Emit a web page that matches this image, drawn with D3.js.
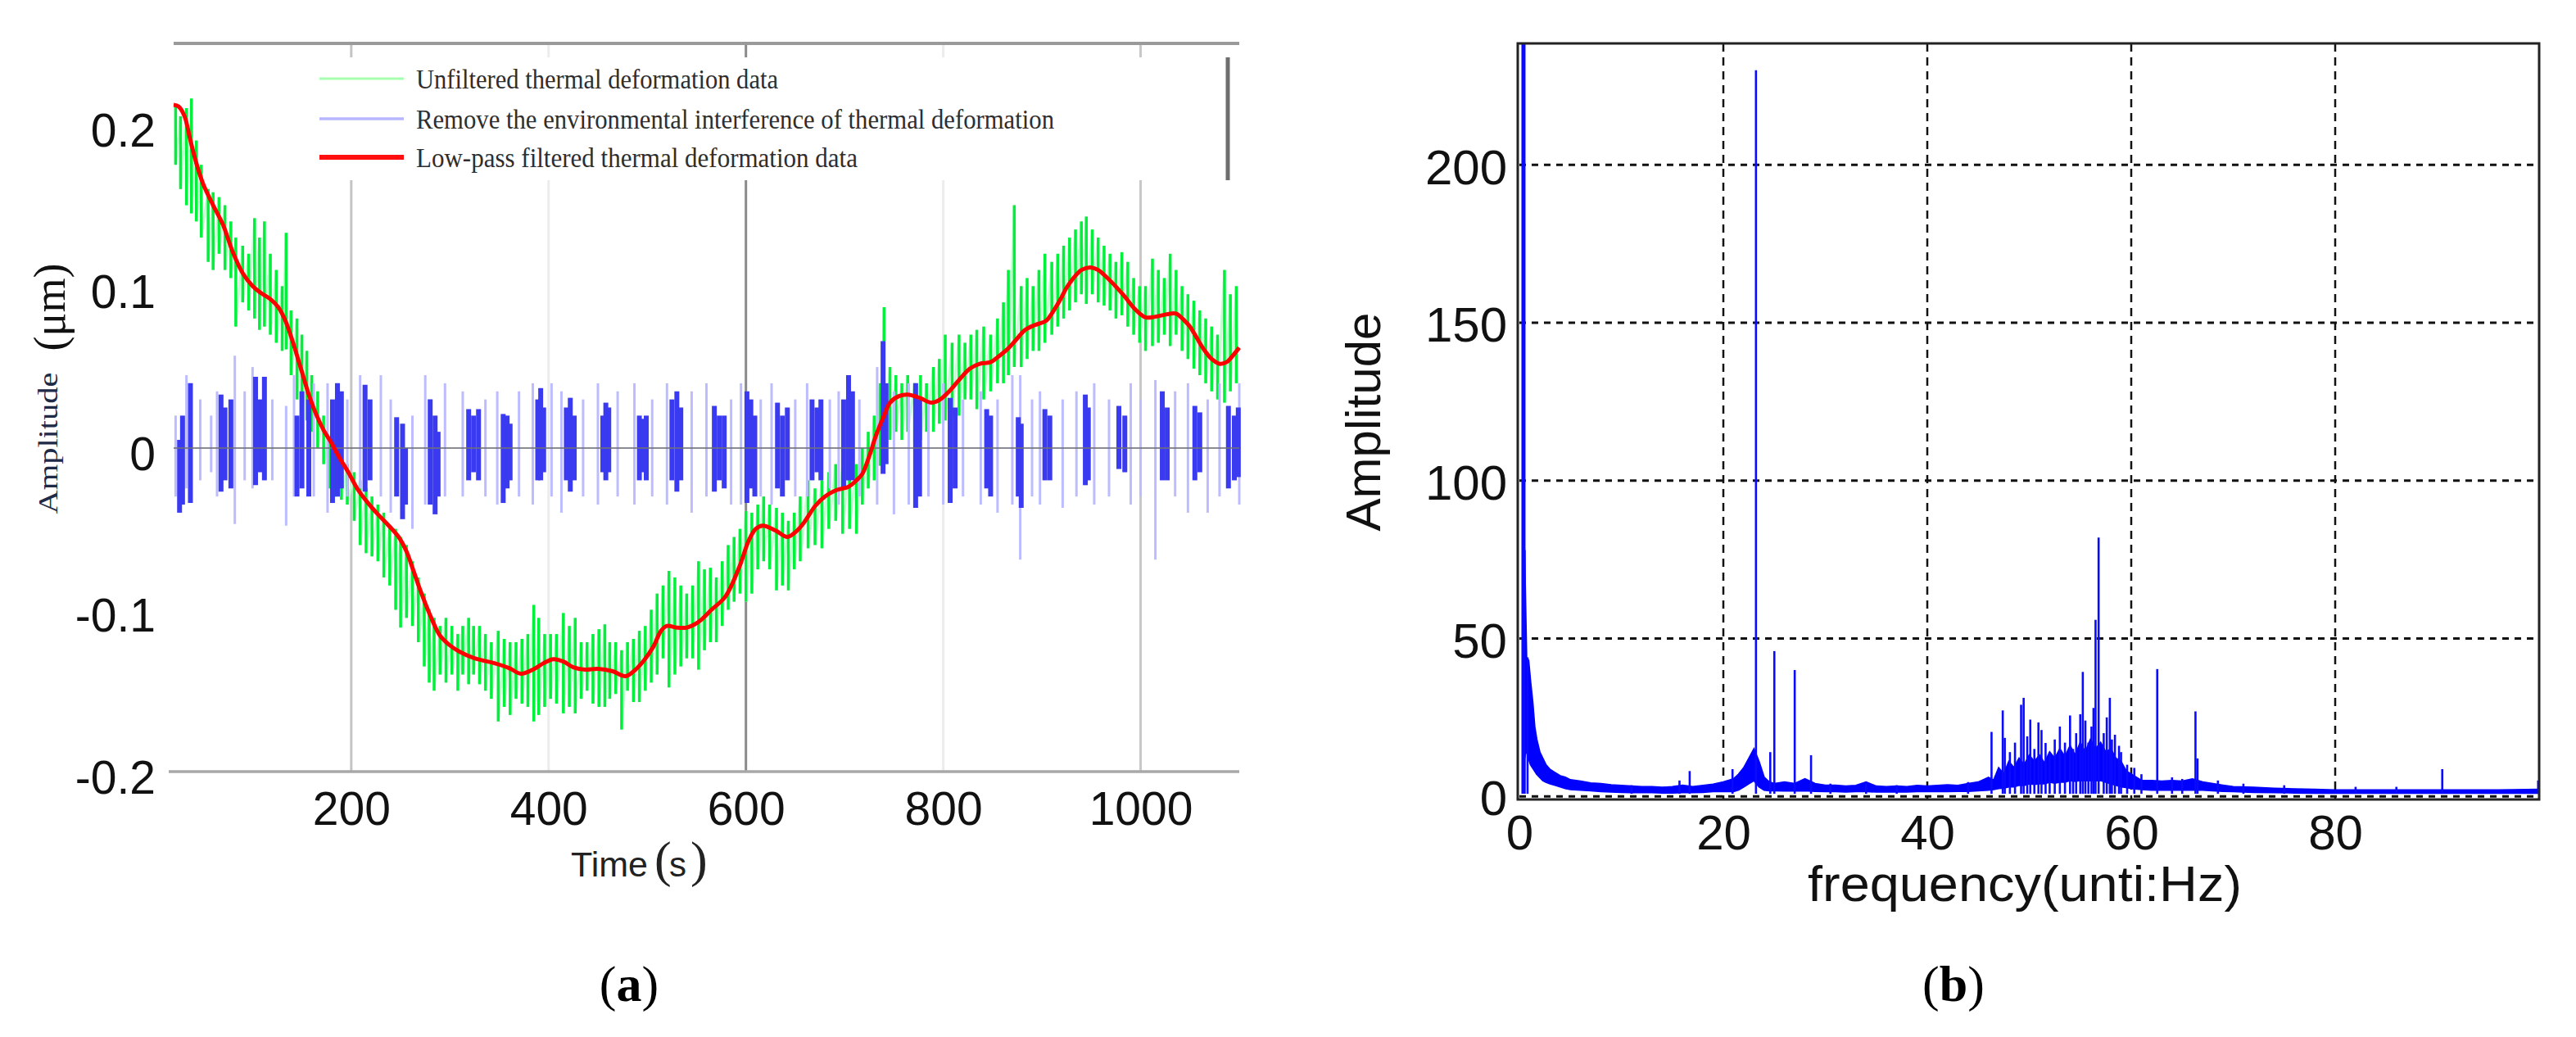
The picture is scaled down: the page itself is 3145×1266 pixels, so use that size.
<!DOCTYPE html>
<html><head><meta charset="utf-8">
<script src="https://cdn.jsdelivr.net/npm/d3@7"></script>
<style>body{margin:0;background:#fff}svg{display:block}</style>
</head><body>
<svg id="c" width="3145" height="1266"></svg>
<script>
// ---------------- DATA ----------------
const timeTicks = [200, 400, 600, 800, 1000];
const ampTicks = [-0.2, -0.1, 0, 0.1, 0.2];
const ampTickLabels = ["-0.2", "-0.1", "0", "0.1", "0.2"];
const freqTicks = [0, 20, 40, 60, 80];
const specTicks = [0, 50, 100, 150, 200];
const legendLabels = [
  "Unfiltered thermal deformation data",
  "Remove the environmental interference of thermal deformation",
  "Low-pass filtered thermal deformation data"
];
// red: low-pass filtered [time, amplitude]
const redCurve = [[20,0.212],[25,0.211],[31,0.205],[37,0.19],[43,0.176],[50,0.163],[60,0.150],[70,0.138],[80,0.121],[90,0.108],[100,0.100],[108,0.096],[118,0.092],[126,0.087],[133,0.079],[140,0.067],[150,0.047],[157,0.033],[165,0.020],[172,0.011],[180,0.003],[188,-0.006],[197,-0.015],[206,-0.025],[217,-0.034],[227,-0.041],[238,-0.048],[248,-0.055],[256,-0.064],[262,-0.074],[270,-0.088],[279,-0.102],[290,-0.116],[300,-0.122],[310,-0.126],[325,-0.130],[345,-0.133],[360,-0.136],[372,-0.1395],[384,-0.137],[395,-0.133],[405,-0.1305],[415,-0.132],[425,-0.1355],[437,-0.137],[450,-0.1365],[465,-0.138],[478,-0.141],[488,-0.137],[497,-0.131],[506,-0.123],[514,-0.113],[520,-0.110],[530,-0.111],[540,-0.111],[548,-0.109],[555,-0.106],[565,-0.100],[579,-0.092],[593,-0.074],[603,-0.057],[610,-0.050],[617,-0.048],[630,-0.051],[642,-0.055],[652,-0.051],[659,-0.046],[670,-0.036],[680,-0.030],[692,-0.026],[704,-0.024],[712,-0.020],[718,-0.016],[725,-0.005],[732,0.008],[740,0.020],[746,0.028],[755,0.032],[764,0.033],[776,0.031],[788,0.028],[797,0.030],[806,0.035],[816,0.042],[827,0.049],[837,0.052],[848,0.053],[857,0.057],[865,0.061],[874,0.067],[883,0.073],[893,0.076],[904,0.0785],[911,0.084],[918,0.091],[925,0.099],[932,0.105],[940,0.110],[949,0.1116],[957,0.110],[963,0.107],[973,0.101],[984,0.0935],[994,0.086],[1005,0.0807],[1014,0.081],[1022,0.082],[1030,0.083],[1036,0.083],[1044,0.079],[1050,0.075],[1057,0.068],[1064,0.061],[1072,0.055],[1080,0.052],[1087,0.053],[1092,0.056],[1100,0.062]];
// green: unfiltered data, [time, low, high] of each vertical excursion
const greenBars = [[22,0.175,0.212],[27,0.16,0.205],[33,0.15,0.21],[38,0.145,0.216],[43,0.14,0.19],[48,0.13,0.175],[55,0.115,0.16],[60,0.11,0.158],[66,0.12,0.155],[72,0.11,0.15],[78,0.105,0.14],[83,0.075,0.13],[90,0.09,0.125],[96,0.085,0.12],[102,0.08,0.142],[107,0.073,0.13],[112,0.075,0.14],[118,0.07,0.12],[124,0.065,0.11],[130,0.06,0.1],[134,0.061,0.133],[139,0.045,0.085],[145,0.03,0.08],[150,0.02,0.07],[155,0.017,0.06],[160,0.01,0.045],[166,0.0,0.035],[172,-0.01,0.02],[178,-0.025,0.005],[184,-0.03,0.003],[190,-0.032,0.0],[196,-0.035,-0.01],[203,-0.045,-0.015],[209,-0.06,-0.02],[215,-0.065,-0.025],[221,-0.067,-0.03],[227,-0.07,-0.035],[233,-0.08,-0.04],[239,-0.085,-0.048],[245,-0.1,-0.05],[250,-0.111,-0.055],[256,-0.105,-0.06],[262,-0.11,-0.07],[268,-0.12,-0.08],[274,-0.135,-0.09],[279,-0.145,-0.1],[284,-0.15,-0.105],[290,-0.14,-0.11],[296,-0.145,-0.105],[302,-0.14,-0.11],[308,-0.15,-0.115],[313,-0.14,-0.11],[319,-0.146,-0.105],[324,-0.14,-0.11],[330,-0.146,-0.11],[336,-0.15,-0.115],[342,-0.155,-0.12],[349,-0.169,-0.113],[355,-0.16,-0.118],[361,-0.165,-0.12],[367,-0.155,-0.12],[373,-0.158,-0.118],[379,-0.16,-0.115],[385,-0.169,-0.097],[390,-0.165,-0.105],[396,-0.16,-0.115],[402,-0.155,-0.115],[408,-0.158,-0.115],[415,-0.164,-0.102],[421,-0.16,-0.11],[427,-0.164,-0.105],[433,-0.155,-0.12],[439,-0.15,-0.12],[445,-0.158,-0.115],[451,-0.16,-0.112],[457,-0.16,-0.109],[462,-0.155,-0.12],[468,-0.152,-0.12],[474,-0.174,-0.125],[480,-0.15,-0.12],[486,-0.157,-0.118],[492,-0.157,-0.113],[498,-0.15,-0.11],[504,-0.145,-0.1],[510,-0.14,-0.09],[516,-0.13,-0.085],[522,-0.148,-0.076],[528,-0.14,-0.08],[534,-0.135,-0.085],[540,-0.13,-0.09],[546,-0.13,-0.085],[552,-0.137,-0.07],[558,-0.125,-0.075],[564,-0.12,-0.074],[570,-0.12,-0.08],[576,-0.11,-0.07],[582,-0.1,-0.06],[588,-0.095,-0.055],[594,-0.09,-0.05],[600,-0.095,-0.039],[606,-0.09,-0.04],[612,-0.075,-0.035],[618,-0.07,-0.03],[624,-0.075,-0.035],[631,-0.088,-0.037],[637,-0.085,-0.04],[643,-0.088,-0.045],[649,-0.075,-0.04],[655,-0.07,-0.03],[663,-0.062,-0.02],[670,-0.06,-0.025],[677,-0.062,-0.02],[684,-0.05,-0.015],[691,-0.045,-0.01],[698,-0.053,-0.011],[705,-0.05,-0.005],[712,-0.053,-0.01],[718,-0.035,0.0],[724,-0.025,0.01],[730,-0.02,0.02],[736,-0.011,0.04],[740,-0.005,0.087],[746,0.005,0.05],[752,0.01,0.045],[758,0.005,0.04],[764,0.01,0.045],[771,0.003,0.04],[777,0.005,0.045],[783,0.01,0.04],[790,0.01,0.05],[796,0.015,0.055],[802,0.017,0.07],[809,0.02,0.065],[816,0.02,0.07],[822,0.03,0.065],[828,0.03,0.07],[834,0.024,0.073],[841,0.03,0.075],[848,0.035,0.07],[855,0.04,0.08],[861,0.04,0.09],[866,0.045,0.11],[872,0.05,0.15],[879,0.05,0.1],[885,0.055,0.105],[891,0.06,0.1],[897,0.06,0.11],[903,0.065,0.12],[910,0.07,0.115],[916,0.075,0.12],[922,0.08,0.125],[928,0.085,0.13],[934,0.09,0.135],[940,0.095,0.14],[945,0.089,0.143],[951,0.095,0.135],[957,0.09,0.13],[963,0.088,0.125],[969,0.085,0.12],[975,0.08,0.115],[981,0.082,0.121],[987,0.075,0.115],[993,0.07,0.105],[999,0.065,0.1],[1005,0.06,0.1],[1012,0.063,0.117],[1018,0.065,0.11],[1024,0.07,0.105],[1030,0.063,0.12],[1036,0.07,0.11],[1042,0.06,0.1],[1048,0.055,0.095],[1054,0.049,0.091],[1060,0.045,0.085],[1066,0.04,0.08],[1072,0.035,0.075],[1078,0.03,0.07],[1085,0.028,0.11],[1091,0.035,0.095],[1097,0.04,0.1]];
// blue: interference removed, dense bursts [time, low, high]
const blueDark = [[26,-0.040,0.005],[29,-0.035,0.02],[37,-0.034,0.040],[68,-0.027,0.033],[72,-0.02,0.025],[78,-0.025,0.03],[103,-0.023,0.044],[108,-0.015,0.03],[112,-0.02,0.044],[145,-0.030,0.02],[150,-0.025,0.035],[157,-0.03,0.03],[181,-0.034,0.03],[186,-0.03,0.04],[190,-0.025,0.035],[214,-0.027,0.039],[219,-0.02,0.03],[246,-0.03,0.019],[252,-0.044,0.015],[255,-0.035,0.0],[280,-0.035,0.03],[285,-0.041,0.02],[288,-0.03,0.01],[319,-0.02,0.024],[324,-0.015,0.02],[329,-0.02,0.024],[354,-0.034,0.021],[358,-0.025,0.02],[361,-0.02,0.015],[389,-0.02,0.03],[392,-0.02,0.037],[395,-0.015,0.025],[418,-0.02,0.025],[422,-0.027,0.031],[426,-0.02,0.02],[455,-0.015,0.02],[458,-0.02,0.028],[461,-0.015,0.025],[492,-0.02,0.02],[496,-0.015,0.018],[499,-0.02,0.02],[525,-0.02,0.03],[530,-0.027,0.035],[534,-0.02,0.025],[568,-0.027,0.026],[573,-0.02,0.02],[578,-0.025,0.02],[601,-0.034,0.035],[605,-0.025,0.03],[609,-0.03,0.02],[632,-0.025,0.028],[637,-0.03,0.02],[642,-0.02,0.025],[667,-0.02,0.03],[672,-0.015,0.025],[676,-0.02,0.03],[699,-0.025,0.03],[704,-0.02,0.045],[708,-0.02,0.035],[739,-0.016,0.066],[742,-0.01,0.04],[772,-0.037,0.04],[776,-0.03,0.03],[807,-0.034,0.031],[812,-0.025,0.025],[844,-0.025,0.024],[848,-0.030,0.02],[876,-0.03,0.019],[879,-0.037,0.015],[903,-0.02,0.024],[908,-0.02,0.02],[944,-0.023,0.033],[947,-0.02,0.025],[978,-0.013,0.026],[984,-0.015,0.02],[1022,-0.02,0.035],[1027,-0.02,0.025],[1055,-0.02,0.026],[1060,-0.015,0.022],[1089,-0.025,0.026],[1095,-0.02,0.02],[1099,-0.018,0.025]];
const blueFaint = [[22,-0.03,0.02],[33,-0.025,0.045],[47,-0.02,0.03],[58,-0.015,0.02],[64,-0.03,0.035],[82,-0.047,0.057],[92,-0.02,0.035],[100,-0.025,0.05],[120,-0.02,0.03],[134,-0.048,0.026],[142,-0.03,0.045],[162,-0.03,0.04],[176,-0.04,0.04],[196,-0.03,0.03],[209,-0.025,0.045],[230,-0.03,0.045],[240,-0.04,0.03],[262,-0.05,0.02],[275,-0.035,0.045],[295,-0.03,0.04],[313,-0.03,0.035],[336,-0.03,0.03],[348,-0.035,0.035],[370,-0.03,0.035],[384,-0.035,0.04],[403,-0.03,0.04],[413,-0.04,0.035],[435,-0.03,0.03],[450,-0.035,0.04],[470,-0.03,0.035],[487,-0.035,0.04],[505,-0.03,0.03],[520,-0.035,0.04],[545,-0.04,0.035],[560,-0.03,0.04],[585,-0.035,0.03],[595,-0.035,0.04],[615,-0.03,0.03],[626,-0.035,0.04],[650,-0.03,0.03],[662,-0.03,0.04],[685,-0.025,0.03],[694,-0.035,0.035],[715,-0.03,0.03],[733,-0.035,0.05],[750,-0.041,0.035],[765,-0.035,0.04],[785,-0.03,0.03],[800,-0.035,0.04],[820,-0.03,0.03],[838,-0.035,0.035],[855,-0.04,0.03],[870,-0.035,0.045],[878,-0.069,0.045],[890,-0.03,0.03],[898,-0.035,0.035],[921,-0.037,0.03],[935,-0.03,0.035],[953,-0.035,0.04],[968,-0.03,0.03],[990,-0.035,0.04],[1000,-0.03,0.03],[1015,-0.069,0.042],[1035,-0.03,0.035],[1048,-0.04,0.04],[1068,-0.04,0.03],[1080,-0.03,0.04],[1100,-0.035,0.04]];
// spectrum: dense noise band [freq, low, high] and isolated peaks [freq, amplitude]
const specBand = [[0.5,12,78],[0.7,15,44],[0.9,12,43],[1.1,10,36],[1.3,9,30],[1.5,8,22],[1.7,7,18],[2.0,6,14],[2.3,5,12],[2.6,4.5,10],[3.0,4,8.5],[3.5,3.5,7.5],[4.0,3,6.5],[4.5,2.5,6],[5,2.2,5.2],[6,2,4.8],[7,1.8,4.2],[8,1.5,4],[9,1.4,3.6],[10,1.3,3.4],[11,1.2,3.2],[12,1.2,3],[13,1.2,3],[14,1.1,2.8],[15,1.1,3],[16,1.2,3.5],[17,1.2,3],[18,1.3,3.4],[19,1.5,3.8],[20,1.5,4.5],[21,1.5,5.5],[21.5,2,7],[22,3,9],[22.5,4,12],[23,5,15],[23.5,3,11],[24,2,6],[24.5,1.8,4.5],[25,1.8,4],[26,1.7,4.5],[27,1.7,4],[28,1.8,5.5],[29,1.6,4],[30,1.5,3.5],[31,1.5,3.5],[32,1.4,3.2],[33,1.5,3.4],[34,1.5,4.5],[35,1.4,3.2],[36,1.4,3],[37,1.4,3.2],[38,1.4,3],[39,1.5,3.4],[40,1.5,3.2],[41,1.5,3.4],[42,1.5,3.6],[43,1.6,3.4],[44,1.6,4],[45,1.8,4.5],[46,2,6],[46.5,2.2,5],[47,2.5,9],[47.5,2.6,7],[48,3,11],[48.5,3,9],[49,3.5,12],[49.5,3.5,10],[50,4,13],[50.5,3.8,11],[51,4,13],[51.5,4,10.5],[52,4.5,14],[52.5,4.2,12],[53,4.5,15],[53.5,4.5,12.5],[54,5,16],[54.5,4.8,13],[55,5,17],[55.5,5,14],[56,5,18],[56.5,5,15],[57,5,17],[57.5,4.5,14],[58,4,15],[58.5,3.5,12],[59,3,11],[59.5,2.8,8],[60,2.5,7],[61,2.2,5],[62,2,5],[63,2,4.8],[64,2,5],[65,2,4.8],[66,2,5.5],[67,2,4.5],[68,1.8,4],[69,1.6,3.5],[70,1.5,3],[72,1.3,2.8],[74,1.2,2.5],[76,1.1,2.3],[78,1.0,2.2],[80,1.0,2],[84,1.0,2],[88,1.0,2],[92,1.0,2],[96,1.0,2],[100,1.0,2.2]];
const specSpikes = [[0.4,240],[0.5,78],[0.8,44],[11,3.5],[15.7,5],[16.7,8],[20.9,8.6],[23.2,230],[24.6,14],[25.0,46],[27.0,40],[28.6,13],[30.5,4],[34,4.5],[37,3.5],[44,4.5],[46.3,20.4],[47.4,27.2],[47.6,18.5],[48.1,14],[48.6,17],[49.2,29],[49.45,31.2],[49.8,19],[50.1,24.3],[50.5,15],[50.9,23.4],[51.2,21],[51.6,16.9],[52.0,14],[52.5,18],[53.0,22.1],[53.5,17],[54.0,25.6],[54.3,15],[54.6,20],[55.0,26],[55.25,39.4],[55.5,24],[55.8,17],[56.1,22.1],[56.3,28],[56.5,55.9],[56.8,82],[57.3,20],[57.6,25],[57.9,31.2],[58.1,18],[58.4,19.5],[58.8,16],[59,14],[59.6,10],[60.3,9],[61,7],[62.55,40.3],[64,6],[65,5.5],[66.3,26.9],[66.5,12],[68.5,5],[71,4],[75,3.5],[82,3],[86,3],[90.5,8.6],[99.9,5]];

// ---------------- DRAW ----------------
const svg = d3.select('#c');
const SANS = "'Liberation Sans', Arial, sans-serif";
const SERIF = "'Liberation Serif', 'Times New Roman', serif";

// ===== Panel (a) =====
const xL = d3.scaleLinear().domain([20, 1100]).range([212, 1513]);
const yL = d3.scaleLinear().domain([-0.2, 0.25]).range([942, 53]);
const gridShade = {200: '#c4c4c4', 400: '#ececec', 600: '#8a8a8a', 800: '#ececec', 1000: '#c8c8c8'};
const gA = svg.append('g');

gA.selectAll('line.vg').data(timeTicks).join('line')
  .attr('x1', d => xL(d)).attr('x2', d => xL(d))
  .attr('y1', yL(0.25)).attr('y2', yL(-0.2))
  .attr('stroke', d => gridShade[d]).attr('stroke-width', 3);
gA.append('line').attr('x1', xL(20)).attr('x2', xL(1100)).attr('y1', yL(0.25)).attr('y2', yL(0.25))
  .attr('stroke', '#9a9a9a').attr('stroke-width', 4);
gA.append('line').attr('x1', xL(20) - 6).attr('x2', xL(1100)).attr('y1', yL(-0.2)).attr('y2', yL(-0.2))
  .attr('stroke', '#a8a8a8').attr('stroke-width', 3.5);

// legend box (white, hides gridlines)
gA.append('rect').attr('x', 380).attr('y', 70).attr('width', 1119).attr('height', 150).attr('fill', '#fff');
gA.append('line').attr('x1', 1499).attr('x2', 1499).attr('y1', 70).attr('y2', 220)
  .attr('stroke', '#6e6e6e').attr('stroke-width', 5);

// green unfiltered
const gGreen = gA.append('g');
const zig = [];
greenBars.forEach(d => { zig.push([d[0], d[2]]); zig.push([d[0], d[1]]); });
gGreen.append('path').attr('d', d3.line().x(d => xL(d[0])).y(d => yL(d[1]))(zig))
  .attr('fill', 'none').attr('stroke', '#c2ffcf').attr('stroke-width', 3);
gGreen.selectAll('line').data(greenBars).join('line')
  .attr('x1', d => xL(d[0])).attr('x2', d => xL(d[0]))
  .attr('y1', d => yL(d[1])).attr('y2', d => yL(d[2]))
  .attr('stroke', '#00f03c').attr('stroke-width', 3.5);

// blue
const gBlue = gA.append('g');
gBlue.selectAll('line.f').data(blueFaint).join('line').attr('class', 'f')
  .attr('x1', d => xL(d[0])).attr('x2', d => xL(d[0]))
  .attr('y1', d => yL(d[1])).attr('y2', d => yL(d[2]))
  .attr('stroke', '#bcbcff').attr('stroke-width', 3);
gBlue.selectAll('line.d').data(blueDark).join('line').attr('class', 'd')
  .attr('x1', d => xL(d[0])).attr('x2', d => xL(d[0]))
  .attr('y1', d => yL(d[1])).attr('y2', d => yL(d[2]))
  .attr('stroke', '#3a3af0').attr('stroke-width', 6);

// zero line
gA.append('line').attr('x1', xL(20)).attr('x2', xL(1100)).attr('y1', yL(0)).attr('y2', yL(0))
  .attr('stroke', '#6f6f7a').attr('stroke-width', 2).attr('opacity', 0.8);

// red filtered
gA.append('path').attr('d', d3.line().curve(d3.curveCatmullRom).x(d => xL(d[0])).y(d => yL(d[1]))(redCurve))
  .attr('fill', 'none').attr('stroke', '#ff0000').attr('stroke-width', 5).attr('stroke-linejoin', 'round');

// legend
const legColors = ['#a6ffae', '#b7b7ff', '#ff1010'];
const legWidths = [3, 3.5, 6];
const legY = [96, 145, 192];
const legTextLen = [442, 779, 539];
legendLabels.forEach((t, i) => {
  gA.append('line').attr('x1', 390).attr('x2', 493).attr('y1', legY[i]).attr('y2', legY[i])
    .attr('stroke', legColors[i]).attr('stroke-width', legWidths[i]);
  gA.append('text').attr('x', 508).attr('y', legY[i] + 12)
    .attr('font-family', SERIF).attr('font-size', 33).attr('fill', '#2e2e2e')
    .attr('textLength', legTextLen[i]).attr('lengthAdjust', 'spacingAndGlyphs')
    .text(t);
});

// axes labels (a)
const axXa = gA.append('g').attr('transform', `translate(0,${yL(-0.2)})`)
  .call(d3.axisBottom(xL).tickValues(timeTicks).tickSize(0).tickFormat(d3.format('d')));
axXa.select('.domain').remove();
axXa.selectAll('text').attr('y', 65).attr('dy', null)
  .attr('font-family', SANS).attr('font-size', 57).attr('fill', '#111');
const axYa = gA.append('g').attr('transform', 'translate(190,0)')
  .call(d3.axisLeft(yL).tickValues(ampTicks).tickSize(0).tickFormat((d, i) => ampTickLabels[i]));
axYa.select('.domain').remove();
axYa.selectAll('text').attr('x', 0).attr('dy', '0.46em').attr('text-anchor', 'end')
  .attr('font-family', SANS).attr('font-size', 57).attr('fill', '#111');

// Time (s)
const tl = gA.append('text').attr('x', 697).attr('y', 1070).attr('fill', '#222');
tl.append('tspan').attr('font-family', SANS).attr('font-size', 43).text('Time');
tl.append('tspan').attr('x', 799).attr('font-family', SERIF).attr('font-size', 62).text('(');
tl.append('tspan').attr('x', 817).attr('font-family', SANS).attr('font-size', 42).text('s');
tl.append('tspan').attr('x', 843).attr('font-family', SERIF).attr('font-size', 62).text(')');

// Amplitude (μm)
gA.append('text').attr('transform', 'translate(70,541) rotate(-90)').attr('text-anchor', 'middle')
  .attr('font-family', SERIF).attr('font-size', 34).attr('fill', '#1d2a48')
  .attr('textLength', 173).attr('lengthAdjust', 'spacingAndGlyphs').text('Amplitude');
gA.append('text').attr('transform', 'translate(79,375) rotate(-90)').attr('text-anchor', 'middle')
  .attr('font-family', SERIF).attr('font-size', 54).attr('fill', '#111').text('(μm)');

// (a)
const la = svg.append('text').attr('x', 768).attr('y', 1222).attr('text-anchor', 'middle')
  .attr('font-family', SERIF).attr('font-size', 62).attr('fill', '#000');
la.append('tspan').text('(');
la.append('tspan').attr('font-weight', 'bold').text('a');
la.append('tspan').text(')');

// ===== Panel (b) =====
const xR = d3.scaleLinear().domain([0, 100]).range([1855, 3100]);
const yR = d3.scaleLinear().domain([-1, 238.5]).range([976, 53]);
const gB = svg.append('g');
svg.append('defs').append('clipPath').attr('id', 'clipR').append('rect')
  .attr('x', xR(0) - 2).attr('y', yR(238.5)).attr('width', xR(100) - xR(0) + 2).attr('height', yR(-1) - yR(238.5));

// grid
gB.selectAll('line.gv').data(freqTicks.filter(d => d > 0)).join('line').attr('class', 'gv')
  .attr('x1', d => xR(d)).attr('x2', d => xR(d)).attr('y1', yR(238.5)).attr('y2', yR(-1))
  .attr('stroke', '#111').attr('stroke-width', 2.5).attr('stroke-dasharray', '10,7');
gB.selectAll('line.gh').data(specTicks).join('line').attr('class', 'gh')
  .attr('x1', xR(0)).attr('x2', xR(100)).attr('y1', d => yR(d)).attr('y2', d => yR(d))
  .attr('stroke', '#111').attr('stroke-width', 3).attr('stroke-dasharray', '8,7');

// spectrum
const gS = gB.append('g').attr('clip-path', 'url(#clipR)');
gS.append('path').datum(specBand)
  .attr('d', d3.area().x(d => xR(d[0])).y0(d => yR(d[1])).y1(d => yR(d[2])))
  .attr('fill', '#0000ff').attr('stroke', '#0000ff').attr('stroke-width', 2);
gS.selectAll('line.sp').data(specSpikes).join('line').attr('class', 'sp')
  .attr('x1', d => xR(d[0])).attr('x2', d => xR(d[0]))
  .attr('y1', yR(0.8)).attr('y2', d => yR(d[1]))
  .attr('stroke', '#0a0aff').attr('stroke-width', (d, i) => i === 0 ? 5 : 2.6);

// frame
gB.append('rect').attr('x', xR(0) - 2).attr('y', yR(238.5)).attr('width', xR(100) - xR(0) + 2).attr('height', yR(-1) - yR(238.5))
  .attr('fill', 'none').attr('stroke', '#222').attr('stroke-width', 3);

// axes (b)
const axXb = gB.append('g').attr('transform', `translate(0,${yR(-1)})`)
  .call(d3.axisBottom(xR).tickValues(freqTicks).tickSize(0).tickFormat(d3.format('d')));
axXb.select('.domain').remove();
axXb.selectAll('text').attr('y', 61).attr('dy', null)
  .attr('font-family', SANS).attr('font-size', 60).attr('fill', '#111');
const axYb = gB.append('g').attr('transform', 'translate(1840,0)')
  .call(d3.axisLeft(yR).tickValues(specTicks).tickSize(0).tickFormat(d3.format('d')));
axYb.select('.domain').remove();
axYb.selectAll('text').attr('x', 0).attr('dy', '0.38em').attr('text-anchor', 'end')
  .attr('font-family', SANS).attr('font-size', 60).attr('fill', '#111');

gB.append('text').attr('transform', 'translate(1685,515) rotate(-90)').attr('text-anchor', 'middle')
  .attr('font-family', SANS).attr('font-size', 60).attr('fill', '#111').text('Amplitude');
gB.append('text').attr('x', 2472).attr('y', 1100).attr('text-anchor', 'middle')
  .attr('font-family', SANS).attr('font-size', 62).attr('fill', '#111')
  .attr('textLength', 530).attr('lengthAdjust', 'spacingAndGlyphs').text('frequency(unti:Hz)');

const lb = svg.append('text').attr('x', 2385).attr('y', 1222).attr('text-anchor', 'middle')
  .attr('font-family', SERIF).attr('font-size', 62).attr('fill', '#000');
lb.append('tspan').text('(');
lb.append('tspan').attr('font-weight', 'bold').text('b');
lb.append('tspan').text(')');
</script>
</body></html>
